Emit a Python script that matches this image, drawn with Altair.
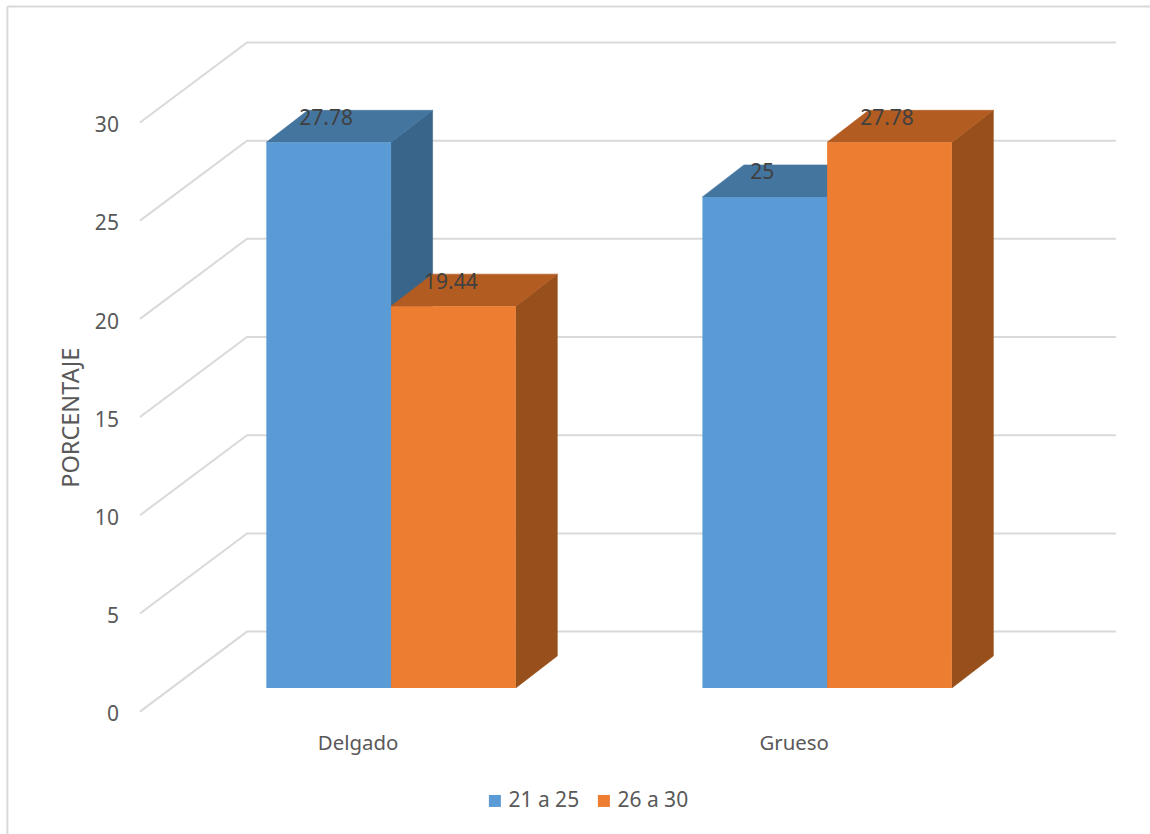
import altair as alt
import pandas as pd

# Chart values
categorias = ["Delgado", "Grueso"]
series = ["21 a 25", "26 a 30"]
valores = {"21 a 25": [27.78, 25], "26 a 30": [19.44, 27.78]}
marcas_y = [0, 5, 10, 15, 20, 25, 30]

# Series colours: front, side and top faces
frente = {"21 a 25": "#5B9BD5", "26 a 30": "#ED7D31"}
lateral = {"21 a 25": "#39658A", "26 a 30": "#97501B"}
superior = {"21 a 25": "#44759F", "26 a 30": "#B35C21"}

# 3D projection, in axis units
ANCHO_BARRA = 0.2860
FONDO_X = 0.0952
FONDO_Y = 1.63
PARED_X = 0.2454
PARED_Y = 4.075
PLANO_X = 0.0757
PLANO_Y = 1.207
FIN_PARED = 2.162

GRIS = "#D9D9D9"
TEXTO = "#595959"
FUENTE = "Noto Sans"
TAM = 21

escala_x = alt.Scale(domain=[-0.1, 2.2], nice=False, zero=False)
escala_y = alt.Scale(domain=[-2, 34], nice=False, zero=False)

expr_cat = "datum.value < 1 ? '%s' : '%s'" % tuple(categorias)

# The same axis definitions go on every layer so that they merge into one
eje_x = alt.Axis(
    values=[0.5, 1.5], labelExpr=expr_cat, labelOffset=-33.5, title=None,
    domain=False, ticks=False, grid=False, labelPadding=6,
    labelFont=FUENTE, labelFontSize=20.4, labelColor=TEXTO,
)
eje_y = alt.Axis(
    values=marcas_y, labelOffset=27, domain=False, ticks=False,
    grid=False, labelPadding=11, labelFont=FUENTE, labelFontSize=TAM,
    labelColor=TEXTO, title="PORCENTAJE", titleFont=FUENTE, titleFontSize=23.5,
    titleFontWeight="normal", titleColor=TEXTO,
    titleX=-46, titleY=397,
)
X_CAMPO = alt.X("x:Q", scale=escala_x, axis=eje_x)
Y_CAMPO = alt.Y("y:Q", scale=escala_y, axis=eje_y)

# Floor-to-wall gridlines: side wall diagonal, then along the back wall
filas = []
for m in marcas_y:
    filas.append({"m": m, "x": -PLANO_X, "y": m - PLANO_Y})
    filas.append({"m": m, "x": -PLANO_X + PARED_X, "y": m - PLANO_Y + PARED_Y})
    filas.append({"m": m, "x": FIN_PARED, "y": m - PLANO_Y + PARED_Y})
rejilla_df = pd.DataFrame(filas)

rejilla = alt.Chart(rejilla_df).mark_line(color=GRIS, strokeWidth=2).encode(
    x=X_CAMPO, y=Y_CAMPO, detail="m:N", order="x:Q"
)

# Chart frame (top and left edges)
marco_sup = alt.Chart(pd.DataFrame({"a": [0]})).mark_rule(color=GRIS, strokeWidth=2).encode(
    x=alt.value(-122), x2=alt.value(1021), y=alt.value(-13.7)
)
marco_izq = alt.Chart(pd.DataFrame({"a": [0]})).mark_rule(color=GRIS, strokeWidth=2).encode(
    x=alt.value(-122), y=alt.value(-13.7), y2=alt.value(815)
)

capas = [marco_sup, marco_izq, rejilla]

# Each series is drawn back to front: side, top, front
for s_i, s in enumerate(series):
    cara_lat, cara_sup, cara_fre = [], [], []
    for c_i, c in enumerate(categorias):
        v = valores[s][c_i]
        x0 = c_i + 0.5 + (s_i - 1) * ANCHO_BARRA
        x1 = x0 + ANCHO_BARRA
        cara_fre.append({"cat": c, "serie": s, "x": x0, "x2": x1, "y": 0, "v": v})
        cara_lat += [
            {"cat": c, "x": x1, "y": 0, "y2": v},
            {"cat": c, "x": x1 + FONDO_X, "y": FONDO_Y, "y2": v + FONDO_Y},
        ]
        cara_sup += [
            {"cat": c, "y": v, "x": x0, "x2": x1},
            {"cat": c, "y": v + FONDO_Y, "x": x0 + FONDO_X, "x2": x1 + FONDO_X},
        ]

    capas.append(
        alt.Chart(pd.DataFrame(cara_lat)).mark_area(
            color=lateral[s], orient="vertical", stroke=lateral[s], strokeWidth=0.6
        ).encode(x=X_CAMPO, y=Y_CAMPO, y2="y2:Q", detail="cat:N")
    )
    capas.append(
        alt.Chart(pd.DataFrame(cara_sup)).mark_area(
            color=superior[s], orient="horizontal", stroke=superior[s], strokeWidth=0.6
        ).encode(y=Y_CAMPO, x=X_CAMPO, x2="x2:Q", detail="cat:N")
    )
    capas.append(
        alt.Chart(pd.DataFrame(cara_fre)).mark_bar(cornerRadius=0).encode(
            x=X_CAMPO,
            x2="x2:Q",
            y=Y_CAMPO,
            y2="v:Q",
            color=alt.Color(
                "serie:N",
                scale=alt.Scale(domain=series, range=[frente[k] for k in series]),
                legend=alt.Legend(
                    title=None, orient="none", direction="horizontal",
                    legendX=355, legendY=770, symbolType="square",
                    symbolSize=144, symbolStrokeWidth=0, labelFont=FUENTE,
                    labelFontSize=TAM, labelColor=TEXTO, columnPadding=14,
                    labelOffset=3, symbolOpacity=1,
                ),
            ),
        )
    )

# Value labels, over everything else
etiquetas = pd.DataFrame(
    [
        {
            "x": c_i + 0.5 + (s_i - 0.5) * ANCHO_BARRA,
            "y": valores[s][c_i],
        }
        for s_i, s in enumerate(series)
        for c_i in range(len(categorias))
    ]
)
capas.append(
    alt.Chart(etiquetas).mark_text(
        font=FUENTE, fontSize=TAM, color="#404040", dx=-2.5, dy=-23.5
    ).encode(x=X_CAMPO, y=Y_CAMPO, text=alt.Text("y:Q"))
)

chart = alt.layer(*capas).properties(
    width=1003,
    height=707,
    autosize=alt.AutoSizeParams(type="none"),
    padding={"left": 129.4, "top": 20.2, "right": 17.6, "bottom": 106.8},
    background="white",
).configure_view(stroke=None)

chart.save("out.html", embed_options={"renderer": "svg", "actions": False})
